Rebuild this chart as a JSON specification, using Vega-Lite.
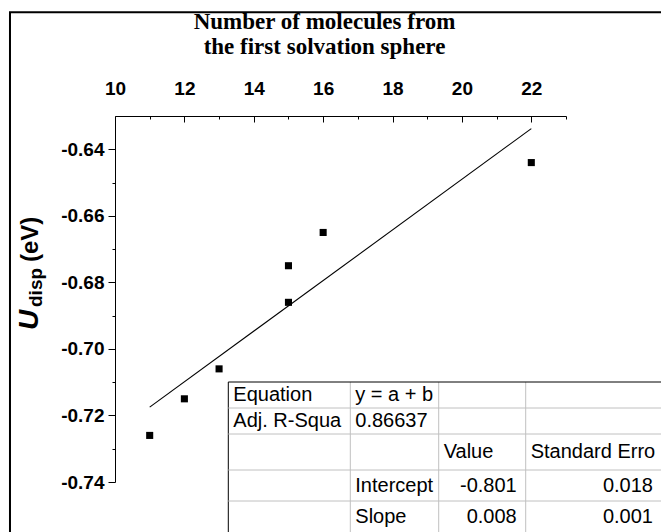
{
  "$schema": "https://vega.github.io/schema/vega-lite/v6.json",
  "width": 451,
  "height": 366,
  "autosize": {"type": "none"},
  "padding": {"left": 115, "top": 116, "right": 95, "bottom": 50},
  "background": "white",
  "config": {"view": {"stroke": null}, "font": "Liberation Sans"},
  "datasets": {
    "pts": [
      {"n": 11, "u": -0.726},
      {"n": 12, "u": -0.715},
      {"n": 13, "u": -0.706},
      {"n": 15, "u": -0.675},
      {"n": 15, "u": -0.686},
      {"n": 16, "u": -0.665},
      {"n": 22, "u": -0.644}
    ],
    "fit": [
      {"n": 11, "u": -0.7175},
      {"n": 22, "u": -0.6338}
    ],
    "hgrid": [{"k": 0}, {"k": 1}, {"k": 2}, {"k": 3}, {"k": 4}],
    "vgrid": [{"k": 0}, {"k": 1}, {"k": 2}, {"k": 3}],
    "cells": [
      {"row": 0, "col": 0, "text": "Equation", "cell": "label"},
      {"row": 0, "col": 1, "text": "y = a + b", "cell": "label"},
      {"row": 1, "col": 0, "text": "Adj. R-Squa", "cell": "label"},
      {"row": 1, "col": 1, "text": "0.86637", "cell": "label"},
      {"row": 2, "col": 2, "text": "Value", "cell": "label"},
      {"row": 2, "col": 3, "text": "Standard Erro", "cell": "label"},
      {"row": 3, "col": 1, "text": "Intercept", "cell": "label"},
      {"row": 3, "col": 2, "text": "-0.801", "cell": "value"},
      {"row": 3, "col": 3, "text": "0.018", "cell": "value"},
      {"row": 4, "col": 1, "text": "Slope", "cell": "label"},
      {"row": 4, "col": 2, "text": "0.008", "cell": "value"},
      {"row": 4, "col": 3, "text": "0.001", "cell": "value"}
    ]
  },
  "layer": [
    {
      "data": {"values": [{}]},
      "mark": {"type": "rect", "filled": false, "stroke": "black", "strokeWidth": 2, "clip": false},
      "encoding": {
        "x": {
          "datum": 6.973, "type": "quantitative",
          "scale": {"domain": [10, 23], "nice": false, "zero": false},
          "axis": {
            "orient": "bottom", "offset": -366,
            "values": [10, 12, 14, 16, 18, 20, 22],
            "labels": false, "domain": false, "grid": false,
            "ticks": true, "tickSize": 6, "tickColor": "black", "tickWidth": 1,
            "title": null
          }
        },
        "x2": {"datum": 30},
        "y": {"datum": -0.59883, "type": "quantitative", "scale": {"domain": [-0.74, -0.63], "nice": false, "zero": false}, "axis": null},
        "y2": {"datum": -1.0}
      }
    },
    {
      "data": {"name": "fit"},
      "mark": {"type": "line", "color": "black", "strokeWidth": 1.1},
      "encoding": {
        "x": {
          "field": "n", "type": "quantitative",
          "scale": {"domain": [10, 23], "nice": false, "zero": false},
          "axis": {
            "orient": "bottom", "offset": -366,
            "values": [11, 13, 15, 17, 19, 21, 23],
            "labels": false, "domain": false, "grid": false,
            "ticks": true, "tickSize": 3, "tickColor": "black", "tickWidth": 1,
            "title": null
          }
        },
        "y": {
          "field": "u", "type": "quantitative",
          "scale": {"domain": [-0.74, -0.63], "nice": false, "zero": false},
          "axis": {
            "orient": "left",
            "values": [-0.73, -0.71, -0.69, -0.67, -0.65],
            "labels": false, "domain": false, "grid": false,
            "ticks": true, "tickSize": 3, "tickColor": "black", "tickWidth": 1,
            "title": null
          }
        }
      }
    },
    {
      "layer": [
        {
          "data": {"name": "pts"},
          "mark": {"type": "square", "size": 50, "color": "black", "filled": true, "opacity": 1},
          "encoding": {
            "x": {
              "field": "n", "type": "quantitative",
              "scale": {"domain": [10, 23], "nice": false, "zero": false},
              "axis": {
                "orient": "top",
                "values": [10, 12, 14, 16, 18, 20, 22],
                "format": "d",
                "labelFont": "Liberation Sans", "labelFontWeight": "bold", "labelFontSize": 19, "labelColor": "black",
                "labelPadding": 18, "labelOverlap": false, "labelFlush": false, "labelBound": false,
                "ticks": false, "tickSize": 0,
                "domainColor": "black", "domainWidth": 1,
                "grid": false,
                "title": ["Number of molecules from", "the first solvation sphere"],
                "titleFont": "Liberation Serif", "titleFontSize": 23, "titleFontWeight": "bold", "titleColor": "black",
                "titleX": 209, "titleY": -88, "titleAlign": "center", "titleBaseline": "alphabetic", "titleLineHeight": 25, "titleAngle": 0
              }
            },
            "y": {
              "field": "u", "type": "quantitative",
              "scale": {"domain": [-0.74, -0.63], "nice": false, "zero": false},
              "axis": {
                "orient": "left",
                "values": [-0.74, -0.72, -0.7, -0.68, -0.66, -0.64],
                "labelExpr": "'-' + format(abs(datum.value), '.2f')",
                "labelFont": "Liberation Sans", "labelFontWeight": "bold", "labelFontSize": 19, "labelColor": "black",
                "labelPadding": 4, "labelOverlap": false, "labelFlush": false, "labelBound": false,
                "ticks": true, "tickSize": 7, "tickColor": "black", "tickWidth": 1,
                "domainColor": "black", "domainWidth": 1,
                "grid": false,
                "title": null
              }
            }
          }
        },
        {
          "data": {"values": [{}]},
          "mark": {"type": "text", "text": "U", "angle": 270, "align": "left", "baseline": "alphabetic", "font": "Liberation Sans", "fontSize": 28, "fontWeight": "bold", "fontStyle": "italic", "color": "black"},
          "encoding": {"x": {"datum": 7.78, "type": "quantitative"}, "y": {"datum": -0.69432, "type": "quantitative"}}
        },
        {
          "data": {"values": [{}]},
          "mark": {"type": "text", "text": "disp", "angle": 270, "align": "left", "baseline": "alphabetic", "font": "Liberation Sans", "fontSize": 19, "fontWeight": "bold", "color": "black"},
          "encoding": {"x": {"datum": 7.896, "type": "quantitative"}, "y": {"datum": -0.6874, "type": "quantitative"}}
        },
        {
          "data": {"values": [{}]},
          "mark": {"type": "text", "text": "(eV)", "angle": 270, "align": "left", "baseline": "alphabetic", "font": "Liberation Sans", "fontSize": 24, "fontWeight": "bold", "color": "black"},
          "encoding": {"x": {"datum": 7.78, "type": "quantitative"}, "y": {"datum": -0.6739, "type": "quantitative"}}
        }
      ]
    },
    {
      "data": {"name": "vgrid"},
      "mark": {"type": "rule", "strokeWidth": 1},
      "encoding": {
        "x": {"field": "k", "type": "quantitative", "scale": {"domain": [0, 1, 2, 3, 4], "range": [113.3, 235.3, 323.7, 410.7, 547], "nice": false, "zero": false}, "axis": null},
        "y": {"datum": 0, "type": "quantitative", "scale": {"domain": [0, 1, 2, 3, 4, 5], "range": [266, 292, 318, 354, 385, 416], "nice": false, "zero": false}, "axis": null},
        "y2": {"datum": 5},
        "color": {"condition": {"test": "datum.k == 0", "value": "#000000"}, "value": "#c0c0c0"}
      }
    },
    {
      "data": {"name": "hgrid"},
      "mark": {"type": "rule", "strokeWidth": 1},
      "encoding": {
        "y": {"field": "k", "type": "quantitative", "scale": {"domain": [0, 1, 2, 3, 4, 5], "range": [266, 292, 318, 354, 385, 416], "nice": false, "zero": false}, "axis": null},
        "x": {"datum": 0, "type": "quantitative", "scale": {"domain": [0, 1, 2, 3, 4], "range": [113.3, 235.3, 323.7, 410.7, 547], "nice": false, "zero": false}, "axis": null},
        "x2": {"datum": 4},
        "color": {"condition": {"test": "datum.k == 0", "value": "#000000"}, "value": "#c0c0c0"}
      }
    },
    {
      "data": {"name": "cells"},
      "transform": [{"filter": "datum.cell == 'label'"}],
      "mark": {"type": "text", "align": "left", "baseline": "middle", "dx": 5, "font": "Liberation Sans", "fontSize": 20, "color": "black"},
      "encoding": {
        "x": {"field": "col", "type": "quantitative", "scale": {"domain": [0, 1, 2, 3], "range": [113.3, 235.3, 323.7, 410.7], "nice": false, "zero": false}, "axis": null},
        "y": {"field": "row", "type": "quantitative", "scale": {"domain": [0, 1, 2, 3, 4], "range": [279, 305, 336, 369.5, 400.5], "nice": false, "zero": false}, "axis": null},
        "text": {"field": "text"}
      }
    },
    {
      "data": {"name": "cells"},
      "transform": [{"filter": "datum.cell == 'value'"}],
      "mark": {"type": "text", "align": "right", "baseline": "middle", "dx": -9, "font": "Liberation Sans", "fontSize": 20, "color": "black"},
      "encoding": {
        "x": {"field": "col", "type": "quantitative", "scale": {"domain": [0, 1, 2, 3], "range": [235.3, 323.7, 410.7, 547], "nice": false, "zero": false}, "axis": null},
        "y": {"field": "row", "type": "quantitative", "scale": {"domain": [0, 1, 2, 3, 4], "range": [279, 305, 336, 369.5, 400.5], "nice": false, "zero": false}, "axis": null},
        "text": {"field": "text"}
      }
    }
  ],
  "resolve": {"scale": {"x": "independent", "y": "independent"}}
}
